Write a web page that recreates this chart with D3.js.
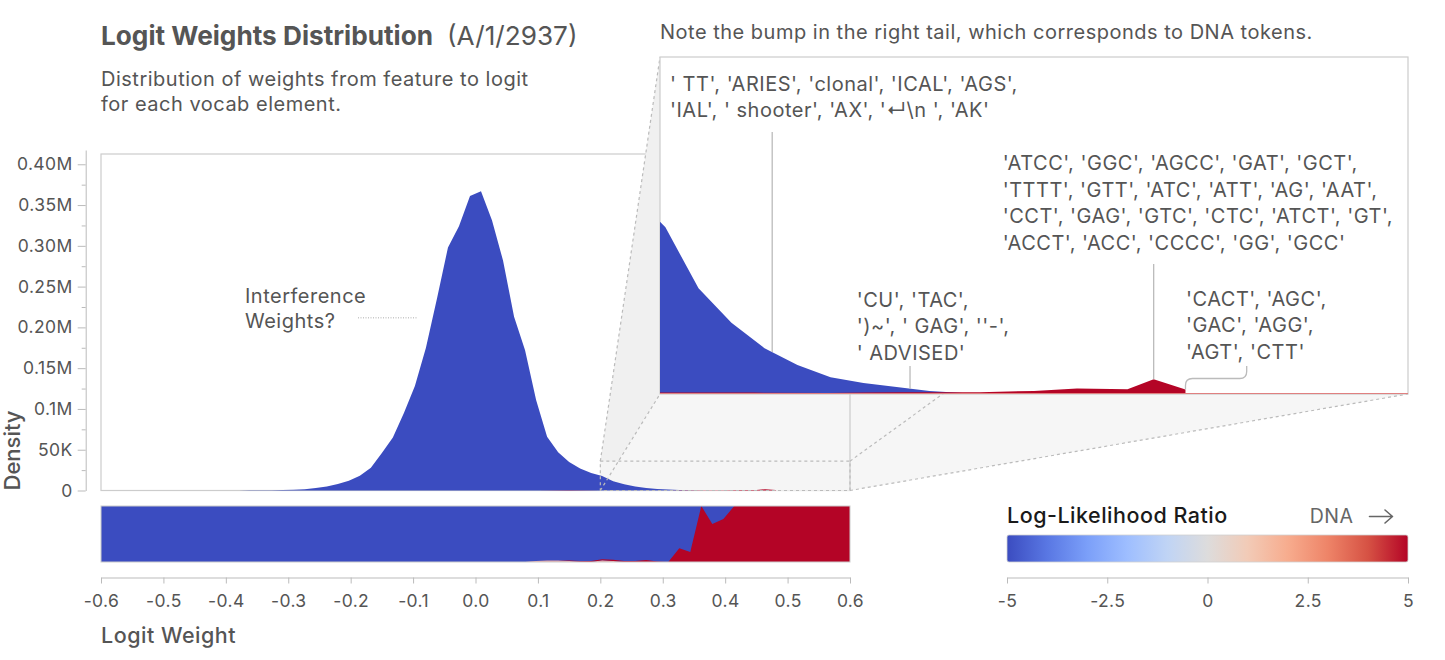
<!DOCTYPE html>
<html><head><meta charset="utf-8">
<script src="https://cdn.jsdelivr.net/npm/d3@7"></script>
<style>
body{margin:0;background:#fff;}
svg text{font-family:Inter,"Noto Sans","DejaVu Sans",sans-serif;white-space:pre;}
</style></head><body>
<svg id="chart" width="1445" height="660"></svg>
<script>
// ---------------- DATA ----------------
const binCenters = [-0.5912,-0.5735,-0.5559,-0.5382,-0.5206,-0.5029,-0.4853,-0.4676,-0.4500,-0.4324,
 -0.4147,-0.3971,-0.3794,-0.3618,-0.3441,-0.3265,-0.3088,-0.2912,-0.2735,-0.2559,
 -0.2382,-0.2206,-0.2029,-0.1853,-0.1676,-0.1500,-0.1324,-0.1147,-0.0971,-0.0794,
 -0.0618,-0.0441,-0.0265,-0.0088,0.0088,0.0265,0.0441,0.0618,0.0794,0.0971,
 0.1147,0.1324,0.1500,0.1676,0.1853,0.2029,0.2206,0.2382,0.2559,0.2735,
 0.2912,0.3088,0.3265,0.3441,0.3618,0.3794,0.3971,0.4147,0.4324,0.4500,
 0.4676,0.4853,0.5029,0.5206,0.5382,0.5559,0.5735,0.5912];
// density of tokens with negative log-likelihood ratio (blue)
const blueDensity = [0,0,0,0,0,0,0,0,0,0,
 0,0,0,200,300,400,600,900,1500,3000,
 5000,8000,12000,18000,28000,46000,65000,95000,128000,175000,
 235000,298000,324000,361000,367000,331000,282000,213000,172000,111000,
 66000,47000,35000,27000,21500,17800,11300,7600,4900,3100,
 1800,1170,750,320,120,60,0,0,0,0,
 0,0,0,0,0,0,0,0];
// density of DNA-like tokens (red), own sampling
const redX = [0.10,0.15,0.20,0.25,0.29,0.31,0.33,0.35,0.371,0.40,0.423,0.450,0.464,0.481];
const redDensity = [0,250,150,150,100,150,200,200,200,330,600,520,1570,480];
// share of each bin per colour (bottom strip)
const stripPinkShare = [0,0,0,0,0,0,0,0,0,0, 0,0,0,0,0,0,0,0,0,0,
 0,0,0,0,0,0,0,0,0,0, 0,0,0,0,0,0,0,0,0,0.02,
 0.025,0.025,0.02,0.005,0,0.03,0.02,0,0,0, 0,0,0,0,0,0,0,0,0,0, 0,0,0,0,0,0,0,0];
const stripRedShare = [0,0,0,0,0,0,0,0,0,0, 0,0,0,0,0,0,0,0,0,0,
 0,0,0,0,0,0,0,0,0,0, 0,0,0,0,0,0,0,0,0,0,
 0,0,0.005,0.015,0.02,0.02,0.02,0.02,0.02,0.035,
 0.01,0,0.245,0.18,1,0.68,0.77,1,1,1, 1,1,1,1,1,1,1,1];
const xTickValues = [-0.6,-0.5,-0.4,-0.3,-0.2,-0.1,0,0.1,0.2,0.3,0.4,0.5,0.6];
const xTickLabels = ["-0.6","-0.5","-0.4","-0.3","-0.2","-0.1","0.0","0.1","0.2","0.3","0.4","0.5","0.6"];
const yTickValues = [0,50000,100000,150000,200000,250000,300000,350000,400000];
const yTickLabels = ["0","50K","0.1M","0.15M","0.20M","0.25M","0.30M","0.35M","0.40M"];
const yMinorValues = [25000,75000,125000,175000,225000,275000,325000,375000];
const legendTickValues = [-5,-2.5,0,2.5,5];
const legendTickLabels = ["-5","-2.5","0","2.5","5"];
const coolwarmStops = ["#3b4cc0","#5977e3","#7b9ff9","#9ebeff","#c0d4f5","#dddcdc","#f2cbb7","#f7ac8e","#ee8468","#d65244","#b40426"];
const annotations = [
 {x:0.26, series:"blue", tx:670, ty:90.5, lines:["' TT', 'ARIES', 'clonal', 'ICAL', 'AGS',","'IAL', ' shooter', 'AX', '\u21B5\\n ', 'AK'"], lineTop:132},
 {x:0.3337, series:"blue", tx:856.7, ty:306.7, lines:["'CU', 'TAC',","')~', ' GAG', ''-',","' ADVISED'"], lineTop:366},
 {x:0.464, series:"red", tx:1002.7, ty:170, lines:["'ATCC', 'GGC', 'AGCC', 'GAT', 'GCT',","'TTTT', 'GTT', 'ATC', 'ATT', 'AG', 'AAT',","'CCT', 'GAG', 'GTC', 'CTC', 'ATCT', 'GT',","'ACCT', 'ACC', 'CCCC', 'GG', 'GCC'"], lineTop:264},
 {x:0.481, series:"red", tx:1186, ty:305.7, lines:["'CACT', 'AGC',","'GAC', 'AGG',","'AGT', 'CTT'"], bracket:true}
];

// ---------------- SETUP ----------------
const svg = d3.select("#chart");
const BLUE = "#3b4cc0", RED = "#b40426", PINK = "#e8a5a3";
const TXT = "#555", AX = "#bbb";
const LS = 0.5; // letter spacing of body text
const frame = {left:101, right:850, top:154, bottom:490.5};
const x = d3.scaleLinear().domain([-0.6,0.6]).range([frame.left, frame.right]);
const y = d3.scaleLinear().domain([0,417500]).range([frame.bottom,150]);
const inset = {left:660, right:1408, top:57, bottom:394};
const zoomX = [0.2,0.6], zoomY = [0,36000];
const xi = d3.scaleLinear().domain(zoomX).range([inset.left, inset.right]);
const yi = d3.scaleLinear().domain(zoomY).range([inset.bottom, inset.top]);

const blueData = binCenters.map((c,i)=>({x:c, v:blueDensity[i]}));
const redData = redX.map((c,i)=>({x:c, v:redDensity[i]}));

// ---------------- TITLES ----------------
const title = svg.append("text").attr("x",101).attr("y",45).attr("font-size",26.2).attr("font-weight",700)
  .attr("fill",TXT).text("Logit Weights Distribution");
const tw = title.node().getComputedTextLength();
svg.append("text").attr("x",101+tw+14).attr("y",45).attr("font-size",26.2).attr("fill",TXT).text("(A/1/2937)");
svg.append("text").attr("x",101).attr("y",85.5).attr("font-size",20).attr("letter-spacing",LS).attr("fill",TXT).text("Distribution of weights from feature to logit");
svg.append("text").attr("x",101).attr("y",110.5).attr("font-size",20).attr("letter-spacing",LS).attr("fill",TXT).text("for each vocab element.");
svg.append("text").attr("x",660).attr("y",38.5).attr("font-size",20).attr("letter-spacing",LS).attr("fill",TXT)
  .text("Note the bump in the right tail, which corresponds to DNA tokens.");

// ---------------- MAIN CHART ----------------
svg.append("rect").attr("x",frame.left).attr("y",frame.top).attr("width",frame.right-frame.left)
  .attr("height",frame.bottom-frame.top).attr("fill","#fff").attr("stroke","#ccc").attr("stroke-width",1.2);

const zx0 = x(zoomX[0]), zx1 = x(zoomX[1]), zy0 = y(zoomY[1]), zy1 = y(zoomY[0]);
// connector wedges
svg.append("polygon").attr("points",[[zx0,zy0],[inset.left,inset.top],[inset.left,inset.bottom],[zx0,zy1]].join(" "))
  .attr("fill","#f0f0f0");
svg.append("polygon").attr("points",[[zx0,zy1],[inset.left,inset.bottom],[inset.right,inset.bottom],[zx1,zy1]].join(" "))
  .attr("fill","#f6f6f6");
svg.append("rect").attr("x",zx0).attr("y",zy0).attr("width",zx1-zx0).attr("height",zy1-zy0).attr("fill","#f5f5f5");

const areaMain = d3.area().x(d=>x(d.x)).y0(y(0)).y1(d=>y(d.v));
svg.append("path").datum(blueData).attr("d",areaMain).attr("fill",BLUE);
svg.append("path").datum(redData).attr("d",areaMain).attr("fill",RED);

// frame right edge over wedge
svg.append("line").attr("x1",frame.right).attr("x2",frame.right).attr("y1",frame.top).attr("y2",frame.bottom)
  .attr("stroke","#ccc").attr("stroke-width",1.2);

// dashed zoom box and connectors
const dash = g => g.attr("stroke","#bbb").attr("stroke-width",1.2).attr("stroke-dasharray","3,3").attr("fill","none");
svg.append("rect").attr("x",zx0).attr("y",zy0).attr("width",zx1-zx0).attr("height",zy1-zy0).call(dash);
[[[zx0,zy0],[inset.left,inset.top]],[[zx0,zy1],[inset.left,inset.bottom]],
 [[zx1,zy0],[inset.right,inset.top]],[[zx1,zy1],[inset.right,inset.bottom]]].forEach(p=>{
  svg.append("line").attr("x1",p[0][0]).attr("y1",p[0][1]).attr("x2",p[1][0]).attr("y2",p[1][1]).call(dash);
});

// y axis
const yAxisG = svg.append("g").attr("transform","translate(85.7,0)");
yAxisG.call(d3.axisLeft(y).tickValues(yTickValues).tickFormat((d,i)=>yTickLabels[i]).tickSize(8).tickSizeOuter(0).tickPadding(5));
yAxisG.append("g").call(d3.axisLeft(y).tickValues(yMinorValues).tickFormat("").tickSize(4).tickSizeOuter(0))
  .select(".domain").remove();
yAxisG.selectAll("path,line").attr("stroke",AX);
yAxisG.selectAll("text").attr("fill",TXT).attr("font-size",17.5).attr("letter-spacing",0.4).attr("font-family",null);

svg.append("text").attr("transform","translate(20,490.5) rotate(-90)").attr("font-size",22).attr("font-weight",500)
  .attr("fill",TXT).text("Density");

// "Interference Weights?" label
svg.append("text").attr("x",245).attr("y",303.3).attr("font-size",20).attr("letter-spacing",LS).attr("fill",TXT).text("Interference");
svg.append("text").attr("x",245).attr("y",328.3).attr("font-size",20).attr("letter-spacing",LS).attr("fill",TXT).text("Weights?");
svg.append("line").attr("x1",358).attr("x2",418).attr("y1",317.7).attr("y2",317.7)
  .attr("stroke","#c8c8c8").attr("stroke-width",1.5).attr("stroke-dasharray","1,1.5");

// ---------------- INSET ----------------
svg.append("defs").append("clipPath").attr("id","insetClip").append("rect")
  .attr("x",inset.left).attr("y",inset.top).attr("width",inset.right-inset.left).attr("height",inset.bottom-inset.top);
svg.append("rect").attr("x",inset.left).attr("y",inset.top).attr("width",inset.right-inset.left)
  .attr("height",inset.bottom-inset.top).attr("fill","#fff").attr("stroke","#ccc").attr("stroke-width",1.2);
const areaInset = d3.area().x(d=>xi(d.x)).y0(yi(0)).y1(d=>yi(d.v));
const ig = svg.append("g").attr("clip-path","url(#insetClip)");
ig.append("path").datum(blueData).attr("d",areaInset).attr("fill",BLUE);
ig.append("path").datum(redData).attr("d",areaInset).attr("fill",RED);
ig.append("line").attr("x1",inset.left).attr("x2",inset.right).attr("y1",inset.bottom-0.5).attr("y2",inset.bottom-0.5)
  .attr("stroke","#e08080").attr("stroke-width",1);

function valueAt(series, xv){
  const data = series==="blue" ? blueData : redData;
  const i = d3.bisector(d=>d.x).right(data, xv);
  if(i<=0) return data[0].v; if(i>=data.length) return data[data.length-1].v;
  const a=data[i-1], b=data[i], t=(xv-a.x)/(b.x-a.x);
  return a.v+(b.v-a.v)*t;
}
annotations.forEach(a=>{
  const px = xi(a.x), py = yi(valueAt(a.series,a.x));
  if(a.bracket){
    const p = d3.path();
    p.moveTo(px,py); p.lineTo(px,py-4);
    p.quadraticCurveTo(px,py-11,px+7,py-11);
    p.lineTo(1239.7,py-11); p.quadraticCurveTo(1246.7,py-11,1246.7,py-18);
    p.lineTo(1246.7,366);
    svg.append("path").attr("d",p.toString()).attr("fill","none").attr("stroke","#bbb").attr("stroke-width",1.3);
  } else {
    svg.append("line").attr("x1",px).attr("x2",px).attr("y1",a.lineTop).attr("y2",py)
      .attr("stroke","#bbb").attr("stroke-width",1.3);
  }
  const t = svg.append("text").attr("font-size",20).attr("letter-spacing",LS).attr("fill",TXT);
  a.lines.forEach((l,i)=>t.append("tspan").attr("x",a.tx).attr("y",a.ty+i*26.5).text(l));
});

// ---------------- STRIP ----------------
const ys = d3.scaleLinear().domain([0,1]).range([562,506]);
svg.append("rect").attr("x",frame.left).attr("y",506).attr("width",frame.right-frame.left).attr("height",56).attr("fill",BLUE);
const rows = binCenters.map((c,i)=>({x:c, pink:stripPinkShare[i], red:stripRedShare[i]}));
const rowsFull = [Object.assign({},rows[0],{x:-0.6}), ...rows, Object.assign({},rows[rows.length-1],{x:0.6})];
const stacked = d3.stack().keys(["pink","red"])(rowsFull);
const areaStrip = d3.area().x(d=>x(d.data.x)).y0(d=>ys(d[0])).y1(d=>ys(d[1]));
svg.selectAll(".strip").data(stacked).join("path").attr("d",areaStrip).attr("fill",d=>d.key==="red"?RED:PINK);
svg.append("rect").attr("x",frame.left).attr("y",506).attr("width",frame.right-frame.left).attr("height",56)
  .attr("fill","none").attr("stroke","#ccc").attr("stroke-width",1);

// x axis
const xAxisG = svg.append("g").attr("transform","translate(0,577.5)")
  .call(d3.axisBottom(x).tickValues(xTickValues).tickFormat((d,i)=>xTickLabels[i]).tickSize(6).tickSizeOuter(0).tickPadding(11));
xAxisG.selectAll("path,line").attr("stroke",AX);
xAxisG.selectAll("text").attr("fill",TXT).attr("font-size",17.5).attr("letter-spacing",0.4).attr("font-family",null);
svg.append("text").attr("x",101).attr("y",643.3).attr("font-size",21.5).attr("font-weight",500).attr("letter-spacing",LS).attr("fill",TXT).text("Logit Weight");

// ---------------- LEGEND ----------------
const lx = d3.scaleLinear().domain([-5,5]).range([1007,1408]);
const grad = svg.select("defs").append("linearGradient").attr("id","cw").attr("x1","0%").attr("x2","100%");
coolwarmStops.forEach((c,i)=>grad.append("stop").attr("offset",(i/(coolwarmStops.length-1)*100)+"%").attr("stop-color",c));
svg.append("rect").attr("x",1007).attr("y",535).attr("width",401).attr("height",27).attr("rx",2)
  .attr("fill","url(#cw)").attr("stroke","#d0d0d0").attr("stroke-width",0.8);
const lAxisG = svg.append("g").attr("transform","translate(0,577.5)")
  .call(d3.axisBottom(lx).tickValues(legendTickValues).tickFormat((d,i)=>legendTickLabels[i]).tickSize(6).tickSizeOuter(0).tickPadding(11));
lAxisG.selectAll("path,line").attr("stroke",AX);
lAxisG.selectAll("text").attr("fill",TXT).attr("font-size",17.5).attr("letter-spacing",0.4).attr("font-family",null);
svg.append("text").attr("x",1007).attr("y",523.3).attr("font-size",21.5).attr("font-weight",500).attr("letter-spacing",LS).attr("fill","#1a1a1a").text("Log-Likelihood Ratio");
svg.append("text").attr("x",1353.5).attr("y",523.3).attr("font-size",19.5).attr("letter-spacing",LS).attr("text-anchor","end").attr("fill","#666").text("DNA");
// arrow glyph next to "DNA"
svg.append("path").attr("d","M1369.5,516.5 H1392.5 M1385,510 L1392.5,516.5 L1385,523")
  .attr("fill","none").attr("stroke","#666").attr("stroke-width",1.6).attr("stroke-linecap","round").attr("stroke-linejoin","round");
</script>
</body></html>
